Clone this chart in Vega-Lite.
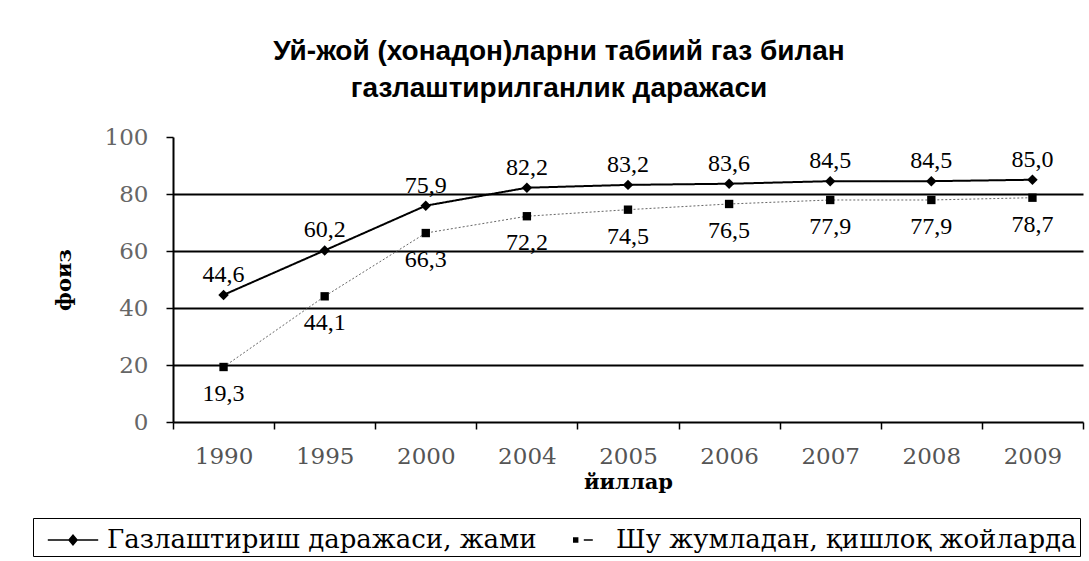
{
  "$schema": "https://vega.github.io/schema/vega-lite/v6.json",
  "width": 910,
  "height": 285,
  "autosize": "none",
  "padding": {"left": 173, "top": 137, "right": 6, "bottom": 139},
  "background": "white",
  "config": {
    "locale": {"number": {"decimal": ",", "thousands": " ", "grouping": [3], "currency": ["", ""]}},
    "view": {"stroke": null},
    "font": "Liberation Serif"
  },
  "title": {
    "text": ["Уй-жой (хонадон)ларни табиий газ билан", "газлаштирилганлик даражаси"],
    "font": "Liberation Sans",
    "fontWeight": "bold",
    "fontSize": 28,
    "lineHeight": 37,
    "dx": -69,
    "offset": 23,
    "anchor": "middle",
    "color": "black"
  },
  "data": {
    "values": [
      {"year": "1990", "series": "Газлаштириш даражаси, жами", "value": 44.6},
      {"year": "1995", "series": "Газлаштириш даражаси, жами", "value": 60.2},
      {"year": "2000", "series": "Газлаштириш даражаси, жами", "value": 75.9},
      {"year": "2004", "series": "Газлаштириш даражаси, жами", "value": 82.2},
      {"year": "2005", "series": "Газлаштириш даражаси, жами", "value": 83.2},
      {"year": "2006", "series": "Газлаштириш даражаси, жами", "value": 83.6},
      {"year": "2007", "series": "Газлаштириш даражаси, жами", "value": 84.5},
      {"year": "2008", "series": "Газлаштириш даражаси, жами", "value": 84.5},
      {"year": "2009", "series": "Газлаштириш даражаси, жами", "value": 85.0},
      {"year": "1990", "series": "Шу жумладан, қишлоқ жойларда", "value": 19.3},
      {"year": "1995", "series": "Шу жумладан, қишлоқ жойларда", "value": 44.1},
      {"year": "2000", "series": "Шу жумладан, қишлоқ жойларда", "value": 66.3},
      {"year": "2004", "series": "Шу жумладан, қишлоқ жойларда", "value": 72.2},
      {"year": "2005", "series": "Шу жумладан, қишлоқ жойларда", "value": 74.5},
      {"year": "2006", "series": "Шу жумладан, қишлоқ жойларда", "value": 76.5},
      {"year": "2007", "series": "Шу жумладан, қишлоқ жойларда", "value": 77.9},
      {"year": "2008", "series": "Шу жумладан, қишлоқ жойларда", "value": 77.9},
      {"year": "2009", "series": "Шу жумладан, қишлоқ жойларда", "value": 78.7}
    ]
  },
  "encoding": {
    "x": {
      "field": "year", "type": "ordinal", "sort": null,
      "scale": {"paddingInner": 0, "paddingOuter": 0},
      "axis": {
        "title": "йиллар", "titleFont": "DejaVu Serif", "titleFontWeight": "bold", "titleFontSize": 21, "titleColor": "black", "titlePadding": 3,
        "labelAngle": 0, "labelFont": "DejaVu Serif", "labelFontSize": 23, "labelColor": "#555", "labelPadding": 16,
        "tickBand": "extent", "tickSize": 7, "tickColor": "black", "tickWidth": 1.5,
        "domainColor": "black", "domainWidth": 2, "grid": false
      }
    },
    "y": {
      "field": "value", "type": "quantitative",
      "scale": {"domain": [0, 100], "nice": false},
      "axis": {
        "values": [0, 20, 40, 60, 80, 100],
        "title": "фоиз", "titleFont": "DejaVu Serif", "titleFontWeight": "bold", "titleFontSize": 21, "titleColor": "black", "titlePadding": 30,
        "labelFont": "DejaVu Serif", "labelFontSize": 23, "labelColor": "#666", "labelPadding": 18,
        "tickSize": 7, "tickColor": "black", "tickWidth": 1.5,
        "domainColor": "black", "domainWidth": 2,
        "grid": true, "gridColor": "black", "gridWidth": 2,
        "gridOpacity": {"condition": {"test": "datum.value >= 100 || datum.value <= 0", "value": 0}, "value": 1}
      }
    }
  },
  "layer": [
    {
      "mark": {"type": "line"},
      "encoding": {
        "detail": {"field": "series", "type": "nominal"},
        "strokeDash": {"condition": {"test": "datum.series === 'Газлаштириш даражаси, жами'", "value": [1, 0]}, "value": [2, 2]},
        "color": {"condition": {"test": "datum.series === 'Газлаштириш даражаси, жами'", "value": "black"}, "value": "#666"},
        "strokeWidth": {"condition": {"test": "datum.series === 'Газлаштириш даражаси, жами'", "value": 2}, "value": 1}
      }
    },
    {
      "mark": {"type": "point", "filled": true, "color": "black", "opacity": 1},
      "encoding": {
        "shape": {"condition": {"test": "datum.series === 'Газлаштириш даражаси, жами'", "value": "diamond"}, "value": "square"},
        "size": {"condition": {"test": "datum.series === 'Газлаштириш даражаси, жами'", "value": 110}, "value": 70}
      }
    },
    {
      "transform": [{"filter": "false"}],
      "mark": {"type": "point", "filled": true, "color": "black"},
      "encoding": {
        "shape": {
          "field": "series", "type": "nominal",
          "scale": {
            "domain": ["Газлаштириш даражаси, жами", "Шу жумладан, қишлоқ жойларда"],
            "range": [
              "M-0.4,-0.045L2.4,-0.045L2.4,0.045L-0.4,0.045ZM1,-0.33L1.28,0L1,0.33L0.72,0Z",
              "M0.5,-0.15L0.8,-0.15L0.8,0.15L0.5,0.15ZM1.1,-0.035L1.6,-0.035L1.6,0.035L1.1,0.035Z"
            ]
          },
          "legend": {
            "title": null, "orient": "none", "legendX": -140, "legendY": 381, "direction": "horizontal",
            "strokeColor": "black", "padding": 3, "labelFont": "DejaVu Serif", "labelFontSize": 26, "labelColor": "black",
            "symbolSize": 1296, "symbolFillColor": "black", "symbolStrokeColor": "black", "symbolStrokeWidth": 1.5, "symbolOpacity": 1,
            "labelOffset": 33, "columnPadding": 8, "labelLimit": 600
          }
        }
      }
    },
    {
      "transform": [{"filter": "datum.series === 'Газлаштириш даражаси, жами'"}],
      "mark": {"type": "text", "dy": -20, "fontSize": 24, "font": "Liberation Serif", "color": "black"},
      "encoding": {"text": {"field": "value", "type": "quantitative", "format": ".1f"}}
    },
    {
      "transform": [{"filter": "datum.series === 'Шу жумладан, қишлоқ жойларда'"}],
      "mark": {"type": "text", "dy": 27, "fontSize": 24, "font": "Liberation Serif", "color": "black"},
      "encoding": {"text": {"field": "value", "type": "quantitative", "format": ".1f"}}
    }
  ]
}
